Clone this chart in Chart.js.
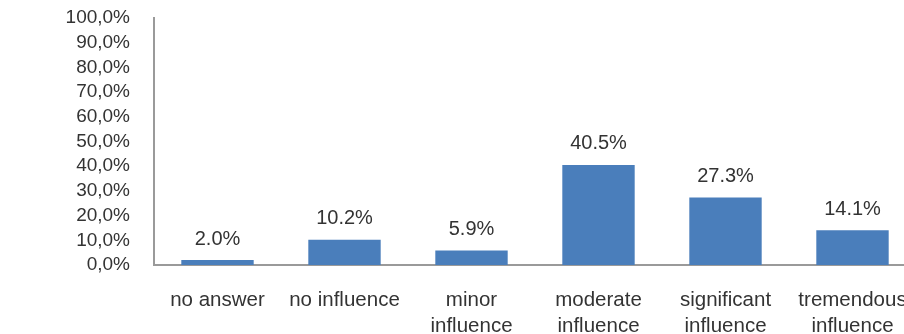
<!DOCTYPE html>
<html>
<head>
<meta charset="utf-8">
<script src="https://cdn.jsdelivr.net/npm/chart.js@4/dist/chart.umd.min.js"></script>
<style>
  html, body { margin: 0; padding: 0; background: #fff; overflow: hidden; }
  #wrap { width: 916px; height: 334px; }
</style>
</head>
<body>
<div id="wrap"><canvas id="chart" width="916" height="334"></canvas></div>
<script>
(() => {
  "use strict";

// data
const categories = [
  "no answer",
  "no influence",
  ["minor", "influence"],
  ["moderate", "influence"],
  ["significant", "influence"],
  ["tremendous", "influence"]
];
const shares = [2.0, 10.2, 5.9, 40.5, 27.3, 14.1];
const yTicks = ["0,0%", "10,0%", "20,0%", "30,0%", "40,0%", "50,0%", "60,0%", "70,0%", "80,0%", "90,0%", "100,0%"];

const FONT = "'Liberation Sans', Arial, sans-serif";
const TEXT = "#333333";

// value labels above the bars
const barLabels = {
  id: "barLabels",
  afterDatasetsDraw(chart) {
    const ctx = chart.ctx;
    const meta = chart.getDatasetMeta(0);
    ctx.save();
    ctx.font = `20px ${FONT}`;
    ctx.fillStyle = TEXT;
    ctx.textAlign = "center";
    ctx.textBaseline = "middle";
    meta.data.forEach((bar, i) => {
      ctx.fillText(shares[i].toFixed(1) + "%", bar.x, bar.y - 21);
    });
    ctx.restore();
  }
};

new Chart(document.getElementById("chart"), {
  type: "bar",
  data: {
    labels: categories,
    datasets: [{
      data: shares,
      backgroundColor: "#4a7ebb",
      barPercentage: 0.57,
      categoryPercentage: 1
    }]
  },
  options: {
    responsive: false,
    animation: false,
    layout: { padding: { top: 18, left: 0, right: 0, bottom: 0 } },
    plugins: { legend: { display: false }, tooltip: { enabled: false } },
    scales: {
      x: {
        grid: { display: false, drawTicks: false },
        border: { color: "#9a9a9a", width: 2 },
        ticks: {
          color: TEXT,
          font: { family: FONT, size: 20.5, lineHeight: 1.27 },
          padding: 22,
          maxRotation: 0,
          autoSkip: false
        },
        afterFit: (s) => { s.height = 69; s.paddingLeft = 0; s.paddingRight = 0; }
      },
      y: {
        min: 0,
        max: 100,
        grid: { display: false, drawTicks: false },
        border: { color: "#9a9a9a", width: 2 },
        ticks: {
          stepSize: 10,
          autoSkip: false,
          color: TEXT,
          font: { family: FONT, size: 19 },
          padding: 24,
          callback: (v, i) => yTicks[i]
        },
        afterFit: (s) => { s.width = 154; s.paddingTop = 0; s.paddingBottom = 0; }
      }
    }
  },
  plugins: [barLabels]
});
})();
</script>
</body>
</html>
